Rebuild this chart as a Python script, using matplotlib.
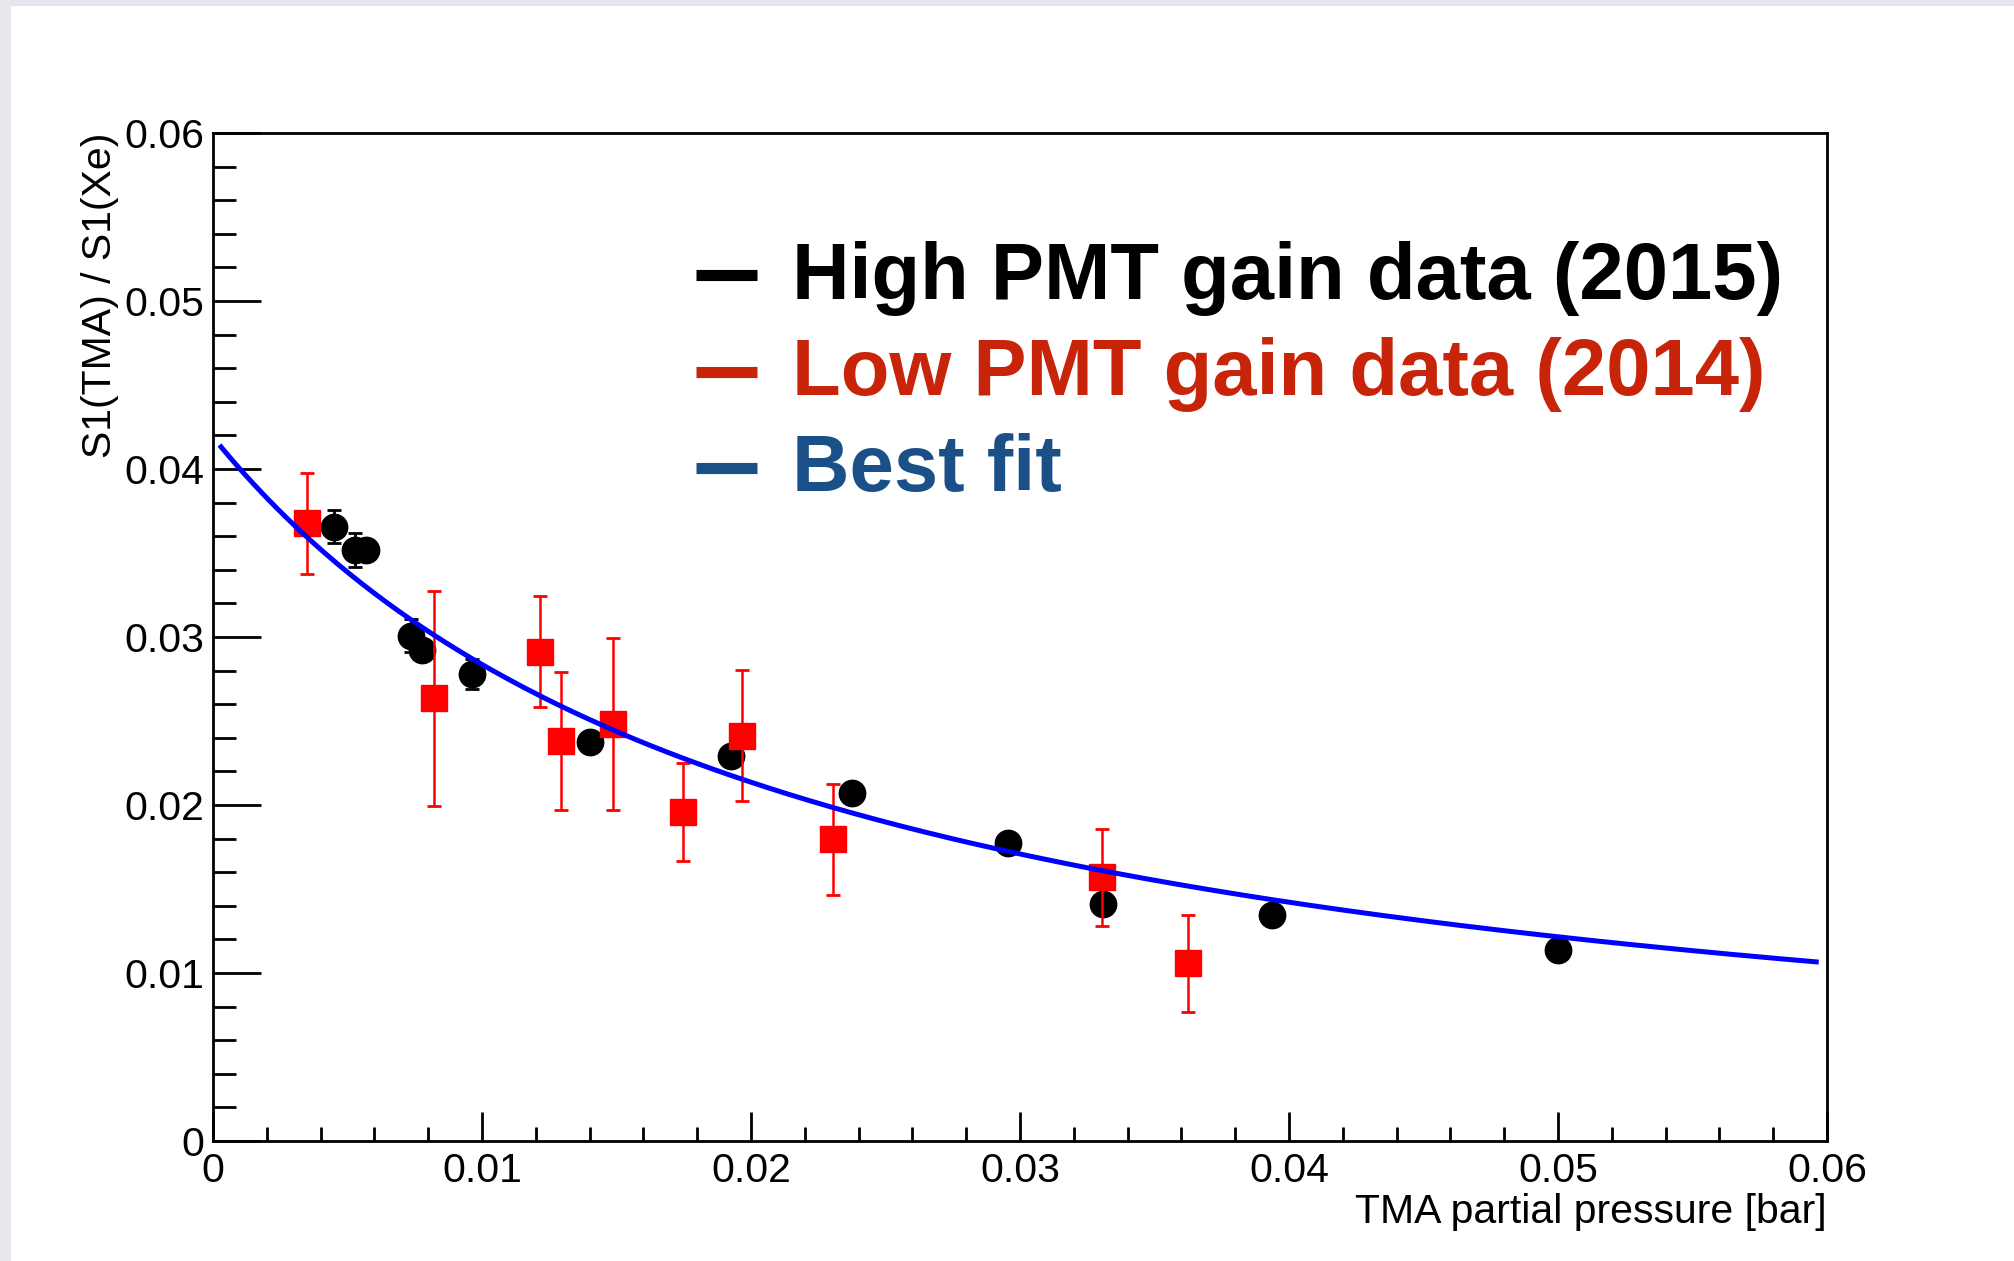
import numpy as np
import matplotlib
matplotlib.use("Agg")
import matplotlib.pyplot as plt
from matplotlib.lines import Line2D
from matplotlib.patches import Rectangle
from matplotlib.ticker import MultipleLocator, FuncFormatter

# High PMT gain data (2015)
high_p = [0.00451, 0.00528, 0.00568, 0.00735, 0.00777, 0.00962, 0.01401,
          0.01926, 0.02374, 0.02955, 0.03307, 0.03935, 0.05000]
high_r = [0.03657, 0.03518, 0.03518, 0.03008, 0.02923, 0.02780, 0.02377,
          0.02292, 0.02073, 0.01772, 0.01411, 0.01345, 0.01137]
high_err = [0.0010, 0.0010, 0.0006, 0.0010, 0.0006, 0.0009, 0.0006,
            0.0006, 0.0006, 0.0006, 0.0006, 0.0006, 0.0006]

# Low PMT gain data (2014)
low_p = [0.00351, 0.00822, 0.01216, 0.01292, 0.01488, 0.01748, 0.01967,
         0.02304, 0.03304, 0.03625]
low_r = [0.03677, 0.02635, 0.02913, 0.02381, 0.02482, 0.01958, 0.02411,
         0.01796, 0.01570, 0.01058]
low_err = [0.0030, 0.0064, 0.0033, 0.0041, 0.0051, 0.0029, 0.0039,
           0.0033, 0.0029, 0.0029]

# Best-fit model r(p) = A / (1 + B p)^n and its drawn range
fit_A, fit_B, fit_n = 0.0419, 45.0, 1.05
fit_range = (0.0003, 0.0596)

legend_labels = ["High PMT gain data (2015)", "Low PMT gain data (2014)", "Best fit"]
legend_colors = ["#000000", "#c8240a", "#1b4f88"]

W, H, DPI = 2014, 1261, 100
fig = plt.figure(figsize=(W / DPI, H / DPI), dpi=DPI)
fig.patch.set_facecolor("white")

# light window-chrome strips along top and left edges
fig.add_artist(Rectangle((0, 1 - 6 / H), 1, 6 / H, transform=fig.transFigure,
                         facecolor="#e3e6ea", edgecolor="none", zorder=0))
fig.add_artist(Rectangle((0, 0), 11 / W, 1, transform=fig.transFigure,
                         facecolor="#e8e9ed", edgecolor="none", zorder=0))

ax = fig.add_axes([213 / W, 1 - 1141 / H, (1827 - 213) / W, (1141 - 133) / H])

font = "Liberation Sans"
fs = 29.5

ax.errorbar(high_p, high_r, yerr=high_err, fmt="o", color="black", ms=19,
            elinewidth=2.0, capsize=4.7, capthick=2.0, zorder=3)
ax.errorbar(low_p, low_r, yerr=low_err, fmt="s", color="#ff0000", ms=19,
            elinewidth=1.8, capsize=4.7, capthick=2.0, zorder=4)

pf = np.linspace(fit_range[0], fit_range[1], 400)
ax.plot(pf, fit_A / (1 + fit_B * pf) ** fit_n, color="#0000ff", lw=3.6, zorder=5)

ax.set_xlim(0, 0.06)
ax.set_ylim(0, 0.06)

for s in ax.spines.values():
    s.set_linewidth(2.0)

ax.xaxis.set_major_locator(MultipleLocator(0.01))
ax.xaxis.set_minor_locator(MultipleLocator(0.002))
ax.yaxis.set_major_locator(MultipleLocator(0.01))
ax.yaxis.set_minor_locator(MultipleLocator(0.002))

fmt = FuncFormatter(lambda v, pos: "0" if abs(v) < 1e-12 else f"{v:.2f}")
ax.xaxis.set_major_formatter(fmt)
ax.yaxis.set_major_formatter(fmt)

ax.tick_params(axis="both", which="both", direction="in", width=2.0,
               top=False, right=False, labelsize=fs)
ax.tick_params(axis="y", which="major", length=34.5, pad=6.5)
ax.tick_params(axis="y", which="minor", length=16.5)
ax.tick_params(axis="x", which="major", length=21, pad=8)
ax.tick_params(axis="x", which="minor", length=10)
for lab in ax.get_xticklabels() + ax.get_yticklabels():
    lab.set_fontfamily(font)

ax.set_xlabel("TMA partial pressure [bar]", fontsize=fs, fontfamily=font, loc="right")
ax.xaxis.set_label_coords(1.0, -0.052)
ax.set_ylabel("S1(TMA) / S1(Xe)", fontsize=fs, fontfamily=font, loc="top")
ax.yaxis.set_label_coords(-0.058, 1.0)

# text legend with short coloured dashes
baselines = [299, 395, 491]
dash_y = [275, 372, 468]
for lab, col, yb, yd in zip(legend_labels, legend_colors, baselines, dash_y):
    fig.text(792 / W, 1 - yb / H, lab, color=col, fontsize=57.3, fontweight="bold",
             fontfamily=font, ha="left", va="baseline")
    fig.add_artist(Line2D([696 / W, 757 / W], [1 - yd / H, 1 - yd / H],
                          transform=fig.transFigure, color=col, lw=8,
                          solid_capstyle="butt"))

fig.savefig("out.png", dpi=DPI, facecolor=fig.get_facecolor())
